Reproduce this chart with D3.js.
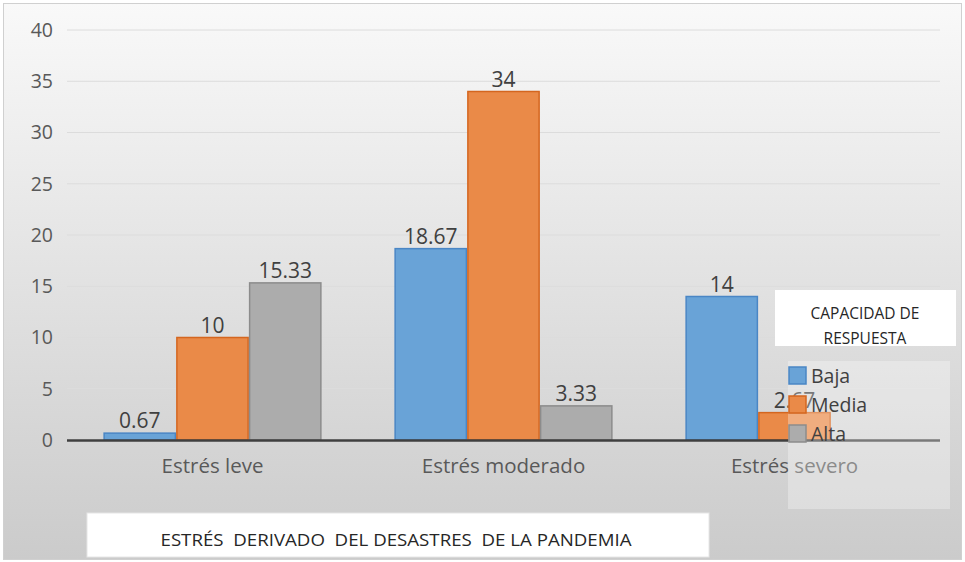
<!DOCTYPE html>
<html><head><meta charset="utf-8">
<script src="https://cdn.jsdelivr.net/npm/d3@7"></script>
<style>body{margin:0;background:#fff}svg{display:block}text{font-family:"Open Sans",sans-serif}</style>
</head><body><svg id="c" width="965" height="562"></svg>
<script>
const categories = ["Estrés leve", "Estrés moderado", "Estrés severo"];
const seriesNames = ["Baja", "Media", "Alta"];
const baja  = [0.67, 18.67, 14];
const media = [10, 34, 2.67];
const alta  = [15.33, 3.33, 0];
const yTicks = [0, 5, 10, 15, 20, 25, 30, 35, 40];
const xTitle = "ESTRÉS  DERIVADO  DEL DESASTRES  DE LA PANDEMIA";
const legendTitle = ["CAPACIDAD DE", "RESPUESTA"];

const fills = ["#69A3D7", "#EA8A48", "#ACACAC"];
const strokes = ["#4A86C5", "#D4661F", "#8C8C8C"];
const series = [baja, media, alta];

const svg = d3.select("#c");
const defs = svg.append("defs");
const g1 = defs.append("linearGradient").attr("id","bg").attr("x1",0).attr("y1",0).attr("x2",0).attr("y2",1);
g1.append("stop").attr("offset","0%").attr("stop-color","#f9f9f9");
g1.append("stop").attr("offset","100%").attr("stop-color","#cbcbcb");

svg.append("rect").attr("x",3.5).attr("y",3.5).attr("width",958).attr("height",556)
  .attr("fill","url(#bg)").attr("stroke","#d0d0d0");

const x0 = d3.scaleBand().domain(categories).range([67, 940]).paddingInner(0.25).paddingOuter(0.125);
const x1 = d3.scaleBand().domain(seriesNames).range([0, x0.bandwidth()]);
const y = d3.scaleLinear().domain([0, 40]).range([440, 30]);

// gridlines
svg.append("g").selectAll("line").data(yTicks.filter(d=>d>0)).join("line")
  .attr("x1",67).attr("x2",940).attr("y1",d=>y(d)).attr("y2",d=>y(d))
  .attr("stroke","#dcdcdc").attr("stroke-width",1);

// y axis labels
const yAxis = d3.axisLeft(y).tickValues(yTicks).tickSize(0).tickPadding(14);
const ya = svg.append("g").attr("transform","translate(67,0)").call(yAxis);
ya.select(".domain").remove();
ya.selectAll("text").attr("font-size",19.5).attr("fill","#595959").attr("font-family","Open Sans, sans-serif");

// bars
const data = [];
categories.forEach((c,i)=>seriesNames.forEach((s,j)=>data.push({c, s, j, v: series[j][i]})));
const bars = svg.append("g");
bars.selectAll("rect").data(data.filter(d=>d.v>0)).join("rect")
  .attr("x",d=>x0(d.c)+x1(d.s)+0.75).attr("width",x1.bandwidth()-1.5)
  .attr("y",d=>y(d.v)).attr("height",d=>y(0)-y(d.v))
  .attr("fill",d=>fills[d.j]).attr("stroke",d=>strokes[d.j]).attr("stroke-width",1.5);

// baseline
svg.append("line").attr("x1",67).attr("x2",940).attr("y1",y(0)+0.5).attr("y2",y(0)+0.5)
  .attr("stroke","#3f3f3f").attr("stroke-width",2.5);

// data labels
svg.append("g").selectAll("text").data(data.filter(d=>d.v>0)).join("text")
  .attr("x",d=>x0(d.c)+x1(d.s)+x1.bandwidth()/2).attr("y",d=>y(d.v)-5)
  .attr("text-anchor","middle").attr("font-size",21).attr("fill","#404040")
  .text(d=>String(d.v));

// x axis labels
const xAxis = d3.axisBottom(x0).tickSize(0).tickPadding(18);
const xa = svg.append("g").attr("transform",`translate(0,${y(0)})`).call(xAxis);
xa.select(".domain").remove();
xa.selectAll("text").attr("font-size",20.5).attr("fill","#595959").attr("font-family","Open Sans, sans-serif");

// x title box
svg.append("rect").attr("x",87).attr("y",513).attr("width",622).attr("height",44).attr("fill","#fff").attr("stroke","#e6e6e6");
svg.append("text").attr("x",396).attr("y",546).attr("text-anchor","middle").attr("font-size",16)
  .attr("fill","#262626").style("white-space","pre").attr("textLength",471).attr("lengthAdjust","spacingAndGlyphs")
  .text(xTitle);

// legend title box
svg.append("rect").attr("x",775).attr("y",290).attr("width",181).attr("height",56).attr("fill","#fff");
svg.selectAll(".lt").data(legendTitle).join("text").attr("class","lt")
  .attr("x",865).attr("y",(d,i)=>319+i*25).attr("text-anchor","middle").attr("font-size",15.5)
  .attr("fill","#262626").text(d=>d);

// legend panel
svg.append("rect").attr("x",788).attr("y",361).attr("width",162).attr("height",148)
  .attr("fill","#ffffff").attr("fill-opacity",0.3);
const lg = svg.append("g").selectAll("g").data(seriesNames).join("g")
  .attr("transform",(d,i)=>`translate(789,${367+i*29})`);
lg.append("rect").attr("width",17).attr("height",17).attr("fill",(d,i)=>fills[i]).attr("stroke",(d,i)=>strokes[i]).attr("stroke-width",1.5);
lg.append("text").attr("x",22).attr("y",16).attr("font-size",19.5).attr("fill","#404040").text(d=>d);
</script></body></html>
